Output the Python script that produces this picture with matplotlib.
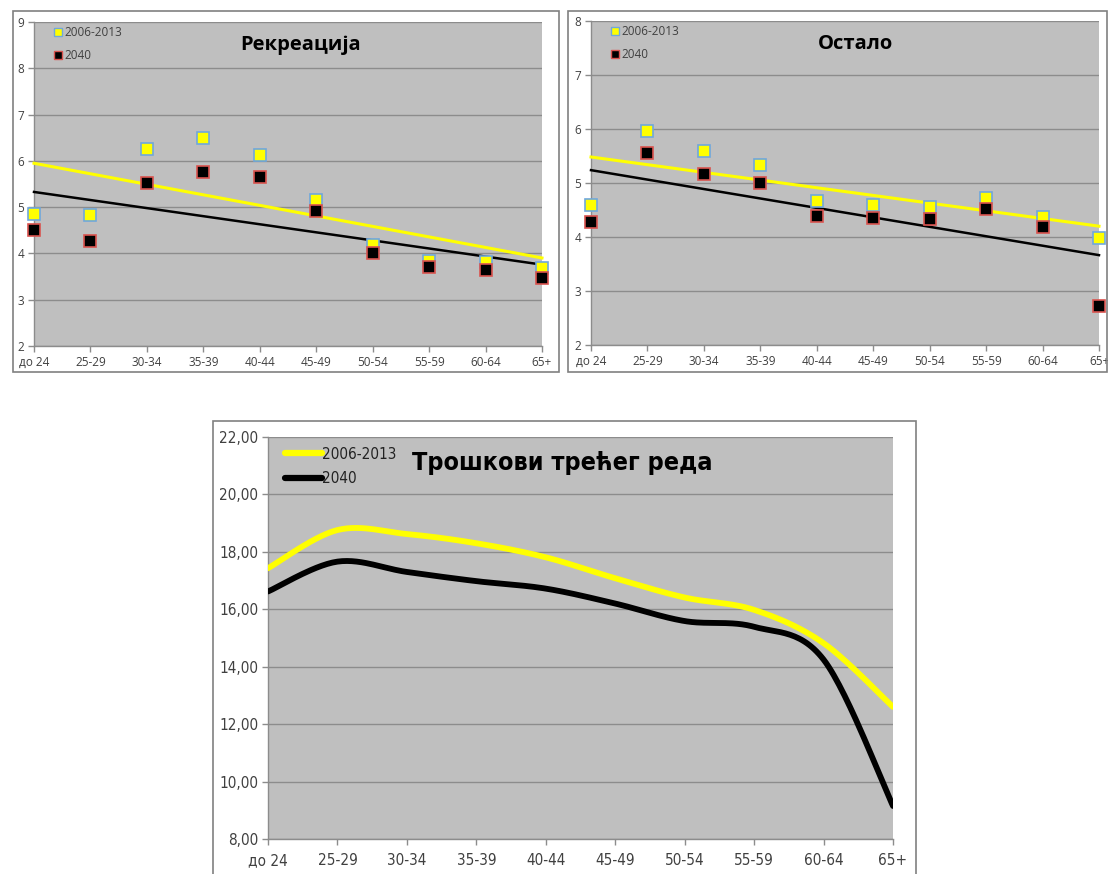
import numpy as np
import matplotlib
matplotlib.use("Agg")
import matplotlib.pyplot as plt
from matplotlib.patches import Rectangle
from matplotlib.lines import Line2D

categories = ["до 24", "25-29", "30-34", "35-39", "40-44", "45-49", "50-54", "55-59", "60-64", "65+"]
series_names = ["2006-2013", "2040"]

rek_2006 = [4.85, 4.83, 6.26, 6.49, 6.13, 5.16, 4.18, 3.84, 3.82, 3.69]
rek_2040 = [4.50, 4.27, 5.52, 5.76, 5.65, 4.92, 4.00, 3.70, 3.64, 3.47]

ost_2006 = [4.60, 5.97, 5.60, 5.34, 4.66, 4.60, 4.56, 4.72, 4.37, 3.99]
ost_2040 = [4.28, 5.56, 5.16, 5.00, 4.39, 4.35, 4.34, 4.52, 4.19, 2.72]

tr_2006 = [17.43, 18.76, 18.62, 18.30, 17.81, 17.08, 16.41, 15.98, 14.82, 12.60]
tr_2040 = [16.62, 17.66, 17.30, 16.98, 16.72, 16.20, 15.59, 15.39, 14.25, 9.15]

W, H = 1108, 874
fig = plt.figure(figsize=(W / 100, H / 100), dpi=100)
fig.patch.set_facecolor("white")

BG = "#BFBFBF"
GRID = "#8C8C8C"
TXT = "#404040"
YEL = "#FFFF00"
SANS = ["Open Sans", "DejaVu Sans"]
NARROW = ["DejaVu Sans"]


def fig_rect(x0, y0, x1, y1):
    return [x0 / W, 1 - y1 / H, (x1 - x0) / W, (y1 - y0) / H]


def frame(x0, y0, x1, y1):
    fig.patches.append(Rectangle((x0 / W, 1 - y1 / H), (x1 - x0) / W, (y1 - y0) / H,
                                 transform=fig.transFigure, fill=False,
                                 edgecolor="#808080", linewidth=1.2))


def smooth(y, n=30):
    # Bezier smoothing through the points (like Excel smoothed lines)
    y = np.asarray(y, float)
    x = np.arange(len(y), dtype=float)
    P = np.column_stack([x, y])
    P = np.vstack([P[0], P, P[-1]])
    out = []
    for i in range(1, len(P) - 2):
        p0, p1, p2, p3 = P[i - 1], P[i], P[i + 1], P[i + 2]
        c1 = p1 + (p2 - p0) / 6.0
        c2 = p2 - (p3 - p1) / 6.0
        t = np.linspace(0, 1, n)[:, None]
        seg = ((1 - t) ** 3) * p1 + 3 * ((1 - t) ** 2) * t * c1 + 3 * (1 - t) * t ** 2 * c2 + t ** 3 * p2
        out.append(seg if i == 1 else seg[1:])
    out = np.vstack(out)
    return out[:, 0], out[:, 1]


def style_axes(ax, ymin, ymax, yticks, fmt, tsize, fam, stretch="normal"):
    ax.set_facecolor(BG)
    ax.set_xlim(0, len(categories) - 1)
    ax.set_ylim(ymin, ymax)
    ax.set_xticks(range(len(categories)))
    ax.set_xticklabels(categories, fontsize=tsize, color=TXT, family=fam, fontstretch=stretch)
    ax.set_yticks(yticks)
    ax.set_yticklabels([fmt(v) for v in yticks], fontsize=tsize, color=TXT, family=fam,
                       fontstretch=stretch)
    for s in ["top", "right"]:
        ax.spines[s].set_visible(False)
    for s in ["left", "bottom"]:
        ax.spines[s].set_color(GRID)
        ax.spines[s].set_linewidth(1.0)
    ax.tick_params(axis="both", direction="out", length=4, color=GRID, width=1.0, pad=3)
    ax.yaxis.grid(True, color=GRID, linewidth=1.0)
    ax.set_axisbelow(True)


def scatter_panel(rect, frame_box, s1, s2, ymin, ymax, title, title_x):
    frame(*frame_box)
    ax = fig.add_axes(fig_rect(*rect))
    style_axes(ax, ymin, ymax, list(range(ymin, ymax + 1)), lambda v: f"{v}", 8.5, SANS)
    x = np.arange(len(categories))
    for vals, col in [(s1, YEL), (s2, "black")]:
        k, b = np.polyfit(x, vals, 1)
        ax.plot([0, len(categories) - 1], [b, b + k * (len(categories) - 1)], color=col,
                linewidth=2.2 if col == YEL else 1.8, zorder=3, clip_on=False)
    ax.plot(x, s1, linestyle="none", marker="s", ms=8.5, mfc=YEL, mec="#6FA8DC", mew=1.2,
            zorder=4, clip_on=False)
    ax.plot(x, s2, linestyle="none", marker="s", ms=8.5, mfc="black", mec="#D9534F", mew=1.2,
            zorder=4, clip_on=False)
    h1 = Line2D([], [], linestyle="none", marker="s", ms=6, mfc=YEL, mec="#6FA8DC", mew=1)
    h2 = Line2D([], [], linestyle="none", marker="s", ms=6, mfc="black", mec="#D9534F", mew=1)
    leg = ax.legend([h1, h2], series_names, loc="upper left", bbox_to_anchor=(0.02, 1.02),
                    frameon=False, handlelength=0.6, handletextpad=0.2, labelspacing=0.85,
                    prop={"family": SANS, "size": 8.5})
    for t in leg.get_texts():
        t.set_color(TXT)
    ax.text(title_x, 0.93, title, transform=ax.transAxes, ha="center", va="center",
            fontsize=14.5, fontweight="bold", family=SANS, color="black")
    return ax


scatter_panel((34, 22, 542, 346), (13, 11, 559, 372), rek_2006, rek_2040, 2, 9, "Рекреација", 0.525)
scatter_panel((591, 21, 1099, 345), (568, 11, 1107, 372), ost_2006, ost_2040, 2, 8, "Остало", 0.52)

# bottom panel
frame(213, 421, 916, 880)
ax = fig.add_axes(fig_rect(268, 437, 893, 839))
yt = list(range(8, 23, 2))
style_axes(ax, 8, 22, yt, lambda v: f"{v:.2f}".replace(".", ","), 11, NARROW, "condensed")
ax.tick_params(axis="x", pad=6)
for vals, col in [(tr_2006, YEL), (tr_2040, "black")]:
    xs, ys = smooth(vals)
    ax.plot(xs, ys, color=col, linewidth=4.2, solid_capstyle="round", zorder=3)
h1 = Line2D([], [], color=YEL, linewidth=4.5, solid_capstyle="round")
h2 = Line2D([], [], color="black", linewidth=4.5, solid_capstyle="round")
leg = ax.legend([h1, h2], series_names, loc="upper left", bbox_to_anchor=(0.005, 1.01),
                frameon=False, handlelength=2.4, handletextpad=0.05, labelspacing=0.6,
                prop={"family": NARROW, "size": 11, "stretch": "condensed"})
for t in leg.get_texts():
    t.set_color("#222222")
ax.text(0.47, 0.935, "Трошкови трећег реда", transform=ax.transAxes, ha="center", va="center",
        fontsize=18, fontweight="bold", family=NARROW, fontstretch="condensed", color="black")

fig.savefig("out.png", dpi=100, facecolor="white")
